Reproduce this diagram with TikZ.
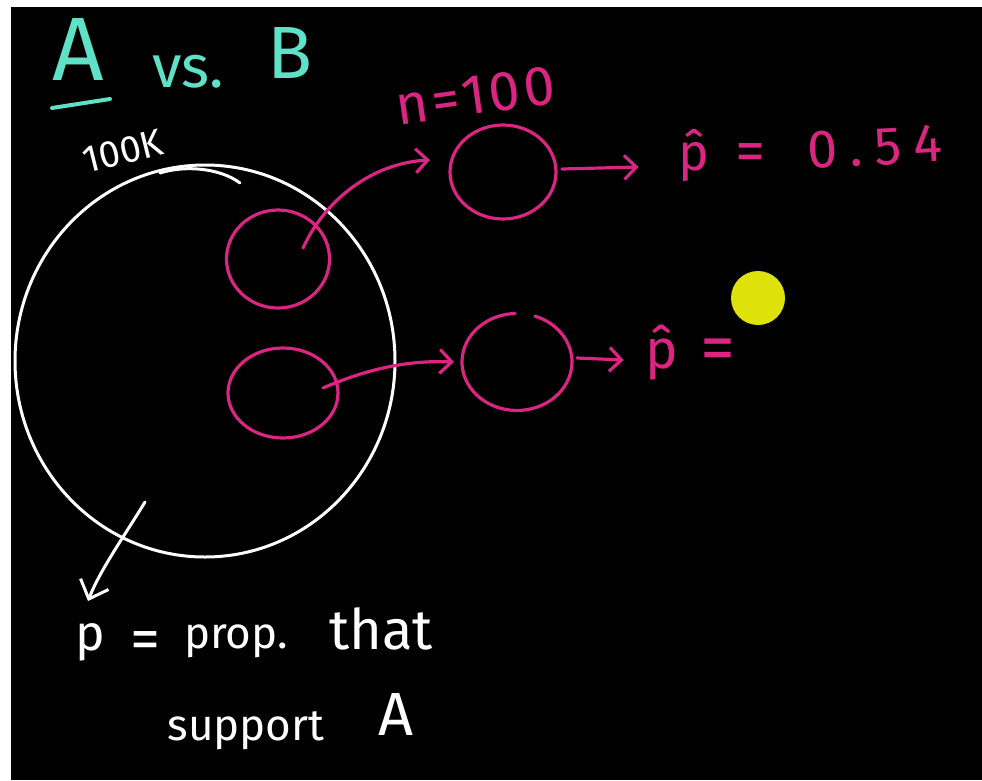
\documentclass[tikz,border=0pt]{standalone}
\usepackage{fontspec}
\setmainfont{Fira Sans}
\usetikzlibrary{arrows.meta,shapes.geometric}
\definecolor{inkpink}{RGB}{218,38,130}
\definecolor{inkteal}{RGB}{95,225,200}
\definecolor{inkyellow}{RGB}{222,225,10}
\newcommand{\fsz}[1]{\fontsize{#1}{#1}\selectfont}
\begin{document}
\begin{tikzpicture}[x=1pt,y=-1pt,
  every node/.style={inner sep=0pt,outer sep=0pt},
  pinkring/.style={draw=inkpink,line width=3.2pt,ellipse},
  pinkline/.style={draw=inkpink,line width=3.2pt,line cap=round},
  pinkarrow/.style={draw=inkpink,line width=3.2pt,line cap=round,line join=round,-{Straight Barb[length=12pt,width=24pt]}},
  whitearrow/.style={draw=white,line width=3pt,line cap=round,line join=round,-{Straight Barb[length=16pt,width=30pt]}},
  tealtxt/.style={text=inkteal,anchor=base},
  pinktxt/.style={text=inkpink,anchor=base},
  whitetxt/.style={text=white,anchor=base}]
\useasboundingbox (0,0) rectangle (982,780);
\fill[white] (0,0) rectangle (982,780);
\fill[black] (11,7) rectangle (982,780);

% title
\node[tealtxt,font=\fsz{90}] (A) at (78,80) {A};
\draw[draw=inkteal,line width=4pt,line cap=round] ([shift={(-26,28)}]A.base) -- ([shift={(32,19)}]A.base);
\node[tealtxt,font=\fsz{60}] (vs) at (188,87) {vs.};
\node[tealtxt,font=\fsz{74}] (B) at (290,78) {B};

% population
\node[draw=white,line width=3pt,ellipse,minimum width=380pt,minimum height=392pt] (pop) at (205,361) {};
\draw[white,line width=3pt,line cap=round] ([shift={(-45,-188)}]pop.center) .. controls (185,165) and (220,168) .. ([shift={(35,-178)}]pop.center);
\node[whitetxt,font=\fsz{38},rotate=14] (k) at (126,164) {100K};

% samples
\node[pinkring,minimum width=103pt,minimum height=98pt] (s1) at (278,259) {};
\node[pinkring,minimum width=110pt,minimum height=90pt] (s2) at (283,393) {};
\node[pinkring,minimum width=106pt,minimum height=94pt] (r1) at (503,172) {};
\node[ellipse,minimum width=110pt,minimum height=97pt] (r2) at (517,362) {};
\draw[pinkline] ([shift={(17.9,-45.9)}]r2.center) arc[start angle=-71,end angle=268,x radius=55,y radius=48.5];

\node[pinktxt,font={\fsz{56}\addfontfeature{LetterSpace=6}},rotate=8] (n) at (478,114) {n=100};

% estimates
\node[pinktxt,font=\fsz{52}] (phat1) at (694,170) {\^{p}};
\node[pinktxt,font=\fsz{60}] (eq1) at (750,171) {=};
\node[pinktxt,font={\fsz{54}\addfontfeature{LetterSpace=22}},rotate=3] (val1) at (876,165) {0.54};
\node[pinktxt,font=\fsz{55}] (phat2) at (662,368) {\^{p}};
\node[pinktxt,font=\fsz{70}] (eq2) at (718,371) {=};
\node[circle,fill=inkyellow,minimum size=54pt] (dot) at (758,298) {};

% connectors
\draw[pinkarrow] ([shift={(25,-11)}]s1.center) .. controls (325,200) and (372,163) .. ([shift={(-20,-12)}]r1.west);
\draw[pinkarrow] ([shift={(40,-5)}]s2.center) .. controls (365,370) and (405,360) .. ([xshift=-8]r2.west);
\draw[pinkarrow] ([shift={(6,-3)}]r1.east) -- ([shift={(-40,-3)}]phat1.base west);
\draw[pinkarrow] ([shift={(5,-4)}]r2.east) -- ([shift={(-22,-8)}]phat2.base west);

% definition of p
\node[whitetxt,font=\fsz{50}] (p) at (90,650) {p};
\draw[whitearrow] ([shift={(-60,141)}]pop.center) .. controls (125,535) and (100,570) .. ([shift={(-2,-22)}]p.north);
\node[whitetxt,font=\fsz{60}] (eq0) at (145,659) {=};
\node[whitetxt,font=\fsz{44}] (prop) at (236,648) {prop.};
\node[whitetxt,font=\fsz{56}] (that) at (381,649) {that};
\node[whitetxt,font=\fsz{44}] (support) at (246,740) {support};
\node[whitetxt,font=\fsz{61}] (Aw) at (396,735) {A};
\end{tikzpicture}
\end{document}
